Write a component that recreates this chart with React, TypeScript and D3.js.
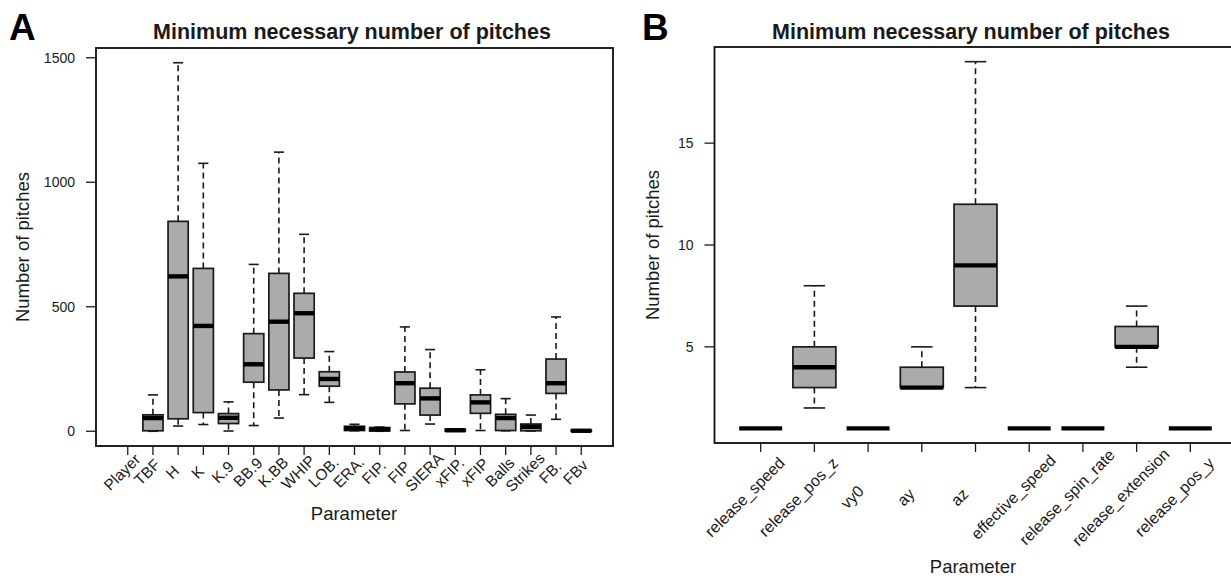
import React, { useEffect, useRef } from 'react';
import * as d3 from 'd3';

// Panel A: pitching statistics
const catsA = ['Player', 'TBF', 'H', 'K', 'K.9', 'BB.9', 'K.BB', 'WHIP', 'LOB.', 'ERA.', 'FIP.', 'FIP', 'SIERA', 'xFIP.', 'xFIP', 'Balls', 'Strikes', 'FB.', 'FBv'];
const minA = [null, 0, 21, 27, 1, 23, 53, 147, 116, 2, 0, 3, 29, 0, 3, 2, 1, 48, 0];
const q1A = [null, 2, 50, 75, 31, 197, 166, 294, 181, 3, 1, 110, 65, 1, 72, 3, 2, 152, 0];
const medA = [null, 53, 622, 423, 54, 269, 440, 474, 210, 12, 8, 193, 132, 4, 116, 53, 18, 193, 2];
const q3A = [null, 66, 843, 654, 71, 392, 634, 554, 239, 20, 15, 238, 173, 8, 146, 68, 29, 290, 5];
const maxA = [null, 146, 1480, 1076, 118, 670, 1121, 791, 320, 28, 17, 419, 328, 10, 247, 131, 65, 459, 6];
const ticksA = [0, 500, 1000, 1500];

// Panel B: release / trajectory parameters
const catsB = ['release_speed', 'release_pos_z', 'vy0', 'ay', 'az', 'effective_speed', 'release_spin_rate', 'release_extension', 'release_pos_y'];
const minB = [1, 2, 1, 3, 3, 1, 1, 4, 1];
const q1B = [1, 3, 1, 3, 7, 1, 1, 5, 1];
const medB = [1, 4, 1, 3, 9, 1, 1, 5, 1];
const q3B = [1, 5, 1, 4, 12, 1, 1, 6, 1];
const maxB = [1, 8, 1, 5, 19, 1, 1, 7, 1];
const ticksB = [5, 10, 15];

const FONT = '"Liberation Sans", Arial, Helvetica, sans-serif';
const INK = '#1a1a1a';

const drawPanel = (svg, p) => {
  const n = p.cats.length;
  // R style 4% axis extension
  const xPad = 0.04 * n;
  const x = d3.scaleLinear().domain([0.5 - xPad, n + 0.5 + xPad]).range([p.left, p.right]);
  const vals = [...p.min, ...p.max].filter(v => v != null);
  const lo = d3.min(vals), hi = d3.max(vals);
  const yPad = 0.04 * (hi - lo);
  const y = d3.scaleLinear().domain([lo - yPad, hi + yPad]).range([p.bottom, p.top]);
  const bw = 0.8 * (x(1) - x(0));

  const g = svg.append('g');

  const boxes = p.cats.map((c, i) => ({
    c, i: i + 1, min: p.min[i], q1: p.q1[i], med: p.med[i], q3: p.q3[i], max: p.max[i]
  })).filter(d => d.med != null);

  const bx = g.selectAll('.bx').data(boxes).enter().append('g');

  // whiskers
  bx.append('line')
    .attr('x1', d => x(d.i)).attr('x2', d => x(d.i))
    .attr('y1', d => y(d.q3)).attr('y2', d => y(d.max))
    .attr('stroke', INK).attr('stroke-width', 1.6).attr('stroke-dasharray', '6,4');
  bx.append('line')
    .attr('x1', d => x(d.i)).attr('x2', d => x(d.i))
    .attr('y1', d => y(d.q1)).attr('y2', d => y(d.min))
    .attr('stroke', INK).attr('stroke-width', 1.6).attr('stroke-dasharray', '6,4');
  // caps
  bx.append('line')
    .attr('x1', d => x(d.i) - bw / 4).attr('x2', d => x(d.i) + bw / 4)
    .attr('y1', d => y(d.max)).attr('y2', d => y(d.max))
    .attr('stroke', INK).attr('stroke-width', 1.6);
  bx.append('line')
    .attr('x1', d => x(d.i) - bw / 4).attr('x2', d => x(d.i) + bw / 4)
    .attr('y1', d => y(d.min)).attr('y2', d => y(d.min))
    .attr('stroke', INK).attr('stroke-width', 1.6);
  // box
  bx.append('rect')
    .attr('x', d => x(d.i) - bw / 2)
    .attr('y', d => y(d.q3))
    .attr('width', bw)
    .attr('height', d => Math.max(0, y(d.q1) - y(d.q3)))
    .attr('fill', '#ababab')
    .attr('stroke', INK).attr('stroke-width', 1.7);
  // median
  bx.append('line')
    .attr('x1', d => x(d.i) - bw / 2).attr('x2', d => x(d.i) + bw / 2)
    .attr('y1', d => y(d.med)).attr('y2', d => y(d.med))
    .attr('stroke', '#000').attr('stroke-width', 4.4);

  // frame
  g.append('rect')
    .attr('x', p.left).attr('y', p.top)
    .attr('width', p.right - p.left).attr('height', p.bottom - p.top)
    .attr('fill', 'none').attr('stroke', INK).attr('stroke-width', 1.9);

  // y axis
  const ya = g.selectAll('.yt').data(p.ticks).enter().append('g');
  ya.append('line')
    .attr('x1', p.left - 10).attr('x2', p.left)
    .attr('y1', d => y(d)).attr('y2', d => y(d))
    .attr('stroke', INK).attr('stroke-width', 1.3);
  ya.append('text')
    .attr('x', p.left - 21).attr('y', d => y(d))
    .attr('dy', '0.35em')
    .attr('text-anchor', 'end')
    .style('font-family', FONT).style('font-size', '14px').style('fill', INK)
    .text(d => d);

  // x axis
  const xa = g.selectAll('.xt').data(p.cats).enter().append('g');
  xa.append('line')
    .attr('x1', (d, i) => x(i + 1)).attr('x2', (d, i) => x(i + 1))
    .attr('y1', p.bottom).attr('y2', p.bottom + 9)
    .attr('stroke', INK).attr('stroke-width', 1.3);
  xa.append('text')
    .attr('transform', (d, i) => `translate(${x(i + 1) + p.lblDx},${p.bottom + p.lblDy}) rotate(-45)`)
    .attr('text-anchor', 'middle')
    .style('font-family', FONT).style('font-size', p.lblSize).style('fill', INK)
    .text(d => d);

  // titles
  g.append('text')
    .attr('x', p.titleX).attr('y', 39)
    .attr('text-anchor', 'middle')
    .style('font-family', FONT).style('font-size', '21.5px').style('font-weight', 'bold').style('fill', INK)
    .text('Minimum necessary number of pitches');
  g.append('text')
    .attr('x', p.paramX).attr('y', p.paramY)
    .attr('text-anchor', 'middle')
    .style('font-family', FONT).style('font-size', '18.5px').style('fill', INK)
    .text('Parameter');
  g.append('text')
    .attr('transform', `translate(${p.ylabX},${(p.top + p.bottom) / 2}) rotate(-90)`)
    .attr('text-anchor', 'middle')
    .style('font-family', FONT).style('font-size', '18.5px').style('fill', INK)
    .text('Number of pitches');
  g.append('text')
    .attr('x', p.letterX).attr('y', 40)
    .style('font-family', FONT).style('font-size', '37px').style('font-weight', 'bold').style('fill', '#000')
    .text(p.letter);
};

const App = () => {
  const svgRef = useRef(null);

  useEffect(() => {
    const svg = d3.select(svgRef.current);
    svg.selectAll('*').remove();

    drawPanel(svg, {
      cats: catsA, min: minA, q1: q1A, med: medA, q3: q3A, max: maxA, ticks: ticksA,
      left: 96, right: 613, top: 48, bottom: 446,
      lblDx: -2, lblDy: 30, lblSize: '15.5px', titleX: 352, paramX: 354, paramY: 520, ylabX: 29,
      letterX: 9, letter: 'A'
    });
    drawPanel(svg, {
      cats: catsB, min: minB, q1: q1B, med: medB, q3: q3B, max: maxB, ticks: ticksB,
      left: 714.5, right: 1236.5, top: 47, bottom: 443,
      lblDx: -12, lblDy: 58, lblSize: '16px', titleX: 971, paramX: 973, paramY: 573, ylabX: 659,
      letterX: 642, letter: 'B'
    });
  }, []);

  return (
    <svg ref={svgRef} width={1231} height={580}
      style={{ position: 'absolute', left: 0, top: 0, background: '#fff' }} />
  );
};

export default App;
